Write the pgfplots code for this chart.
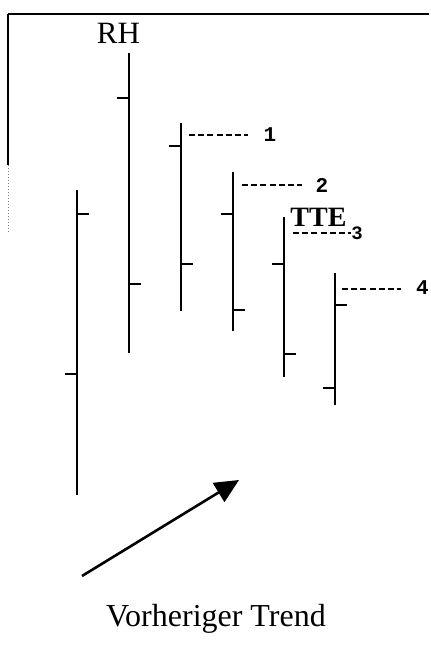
\documentclass[border=0pt]{standalone}
\usepackage{pgfplots}
\pgfplotsset{compat=1.18}
\usepackage{pgfplotstable}
\usepackage{fontspec}
\setmainfont{Liberation Serif}
\newfontfamily\monofont{Liberation Mono}
\usetikzlibrary{arrows.meta}

% OHLC bars (x position, high, low, open, close)
\pgfplotstableread{
x   high low open close
77  466  161 282  442
129 603  303 558  372
181 533  345 510  392
233 484  325 442  346
284 439  279 392  302
335 383  251 268  351
}\ohlc

\begin{document}
\begin{tikzpicture}
\begin{axis}[
  width=214.5pt, height=328pt, scale only axis,
  xmin=0, xmax=429, ymin=0, ymax=656,
  hide axis, clip=false]
\path (axis cs:0,0) rectangle (axis cs:429,656);
% frame
\draw[line width=1.1pt] (axis cs:8,642) -- (axis cs:429,642);
\draw[line width=0.7pt] (axis cs:8,642) -- (axis cs:8,491);
\draw[line width=0.5pt, densely dotted, gray] (axis cs:8,491) -- (axis cs:8,424);

% high-low lines
\addplot[draw=none, no markers,
  error bars/.cd, y dir=plus, y explicit, error mark=none,
  error bar style={draw=black, solid, line width=1.3pt}]
  table[x=x, y=low, y error expr=\thisrow{high}-\thisrow{low}] {\ohlc};
% open ticks (left)
\addplot[draw=none, no markers,
  error bars/.cd, x dir=minus, x fixed=12, error mark=none,
  error bar style={draw=black, solid, line width=1.2pt}]
  table[x=x, y=open] {\ohlc};
% close ticks (right)
\addplot[draw=none, no markers,
  error bars/.cd, x dir=plus, x fixed=12, error mark=none,
  error bar style={draw=black, solid, line width=1.2pt}]
  table[x=x, y=close] {\ohlc};

% dashed reference lines
\addplot[black, line width=0.9pt, dash pattern=on 3pt off 1.6pt] coordinates {(189,521) (248,521)};
\addplot[black, line width=0.9pt, dash pattern=on 3pt off 1.6pt] coordinates {(242,471) (302,471)};
\addplot[black, line width=0.9pt, dash pattern=on 3pt off 1.6pt] coordinates {(293,423) (351,423)};
\addplot[black, line width=0.9pt, dash pattern=on 3pt off 1.6pt] coordinates {(342,367) (401,367)};

\node[anchor=base, inner sep=0, font=\monofont\bfseries\fontsize{10.5}{12}\selectfont] at (axis cs:270,514) {1};
\node[anchor=base, inner sep=0, font=\monofont\bfseries\fontsize{10.5}{12}\selectfont] at (axis cs:322,463) {2};
\node[anchor=base, inner sep=0, font=\monofont\bfseries\fontsize{9.5}{11}\selectfont] at (axis cs:357,416) {3};
\node[anchor=base east, inner sep=0, font=\monofont\bfseries\fontsize{10.5}{12}\selectfont] at (axis cs:429,361) {4};

\node[anchor=base west, inner sep=0, font=\bfseries\fontsize{14}{16}\selectfont] at (axis cs:290,429) {TTE};
\node[anchor=base, inner sep=0, font=\fontsize{15.5}{18}\selectfont] at (axis cs:118.5,612) {RH};

% trend arrow
\draw[line width=1.3pt, -{Triangle[length=12pt,width=11pt]}] (axis cs:82,80) -- (axis cs:239,176);
\node[anchor=base, inner sep=0, font=\fontsize{16}{19}\selectfont] at (axis cs:216,29) {Vorheriger Trend};
\end{axis}
\end{tikzpicture}
\end{document}
